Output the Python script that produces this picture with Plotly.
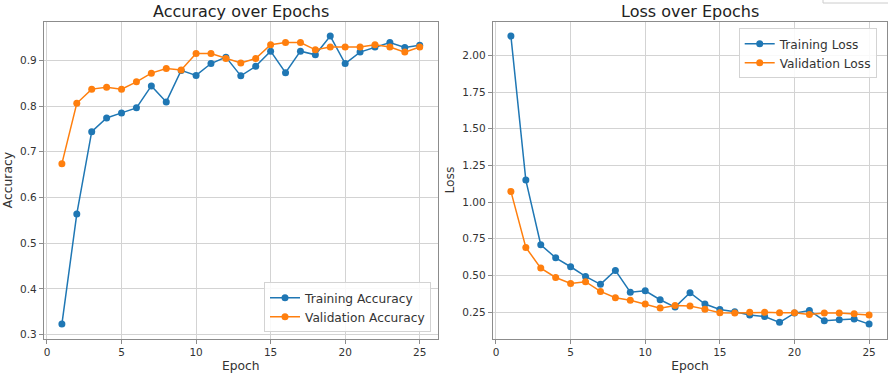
import plotly.graph_objects as go

epochs = list(range(1, 26))
train_acc = [0.323, 0.564, 0.744, 0.774, 0.785, 0.796, 0.844, 0.809, 0.878, 0.867,
             0.893, 0.907, 0.866, 0.887, 0.920, 0.873, 0.920, 0.912, 0.953, 0.893,
             0.918, 0.929, 0.939, 0.928, 0.933]
val_acc = [0.674, 0.806, 0.837, 0.841, 0.837, 0.853, 0.872, 0.882, 0.879, 0.915,
           0.915, 0.904, 0.894, 0.904, 0.934, 0.939, 0.939, 0.923, 0.929, 0.929,
           0.929, 0.934, 0.929, 0.918, 0.929]
train_loss = [2.132, 1.150, 0.709, 0.620, 0.559, 0.493, 0.439, 0.534, 0.386, 0.395,
              0.334, 0.284, 0.382, 0.305, 0.268, 0.252, 0.230, 0.220, 0.180, 0.243,
              0.261, 0.191, 0.198, 0.202, 0.168]
val_loss = [1.073, 0.691, 0.550, 0.486, 0.445, 0.457, 0.391, 0.348, 0.330, 0.305,
            0.277, 0.295, 0.291, 0.270, 0.245, 0.243, 0.248, 0.248, 0.245, 0.245,
            0.234, 0.243, 0.243, 0.239, 0.230]
acc_ticks = [0.3, 0.4, 0.5, 0.6, 0.7, 0.8, 0.9]
loss_ticks = [0.25, 0.5, 0.75, 1.0, 1.25, 1.5, 1.75, 2.0]
epoch_ticks = [0, 5, 10, 15, 20, 25]

BLUE = "#1f77b4"
ORANGE = "#ff7f0e"
FONT = "DejaVu Sans"
W, H = 888, 376


def pad_range(vals, frac=0.05):
    lo, hi = min(vals), max(vals)
    s = hi - lo
    return [lo - frac * s, hi + frac * s]


fig = go.Figure()


def add(x, y, name, color, xa, ya, legend):
    fig.add_trace(go.Scatter(
        x=x, y=y, name=name, mode="lines+markers",
        line=dict(color=color, width=1.5),
        marker=dict(color=color, size=7),
        xaxis=xa, yaxis=ya, legend=legend,
    ))


add(epochs, train_acc, "Training Accuracy", BLUE, "x", "y", "legend")
add(epochs, val_acc, "Validation Accuracy", ORANGE, "x", "y", "legend")
add(epochs, train_loss, "Training Loss", BLUE, "x2", "y2", "legend2")
add(epochs, val_loss, "Validation Loss", ORANGE, "x2", "y2", "legend2")

ydom = [(H - 338.5) / H, (H - 21.7) / H]
axis_common = dict(
    showline=True, mirror=True, linecolor="#8c8c8c", linewidth=1.4,
    showgrid=True, gridcolor="#d3d3d3", gridwidth=1, zeroline=False,
    ticks="outside", ticklen=4, tickcolor="#8c8c8c", tickwidth=1,
    tickfont=dict(family=FONT, size=10.5, color="#333333"),
    automargin=False,
)
title_font = dict(family=FONT, size=12.3, color="#333333")

xr = pad_range(epochs)
fig.update_layout(
    xaxis=dict(domain=[44 / W, 437.6 / W], range=xr, tickvals=epoch_ticks,
               title=dict(text="Epoch", font=title_font, standoff=4), anchor="y", **axis_common),
    yaxis=dict(domain=ydom, range=pad_range(train_acc + val_acc), tickvals=acc_ticks,
               tickformat=".1f",
               title=dict(text="Accuracy", font=title_font, standoff=4), anchor="x", **axis_common),
    xaxis2=dict(domain=[493 / W, 887 / W], range=xr, tickvals=epoch_ticks,
                title=dict(text="Epoch", font=title_font, standoff=4), anchor="y2", **axis_common),
    yaxis2=dict(domain=ydom, range=pad_range(train_loss + val_loss), tickvals=loss_ticks,
                tickformat=".2f",
                title=dict(text="Loss", font=title_font, standoff=4), anchor="x2", **axis_common),
    width=W, height=H,
    margin=dict(l=0, r=0, t=0, b=0),
    paper_bgcolor="white", plot_bgcolor="white",
    legend=dict(x=431 / W, y=(H - 332.3) / H, xanchor="right", yanchor="bottom",
                bgcolor="rgba(255,255,255,0.85)", bordercolor="#d3d3d3", borderwidth=1,
                font=dict(family=FONT, size=12.2, color="#333333")),
    legend2=dict(x=876.7 / W, y=(H - 28.3) / H, xanchor="right", yanchor="top",
                 bgcolor="rgba(255,255,255,0.85)", bordercolor="#d3d3d3", borderwidth=1,
                 font=dict(family=FONT, size=12.2, color="#333333")),
    annotations=[
        dict(text="Accuracy over Epochs", x=(44 + 437.6) / 2 / W, y=(H - 11.5) / H,
             xref="paper", yref="paper", xanchor="center", yanchor="middle", showarrow=False,
             font=dict(family=FONT, size=16, color="#222222")),
        dict(text="Loss over Epochs", x=(493 + 887) / 2 / W, y=(H - 11.5) / H,
             xref="paper", yref="paper", xanchor="center", yanchor="middle", showarrow=False,
             font=dict(family=FONT, size=16, color="#222222")),
    ],
    shapes=[dict(type="rect", xref="paper", yref="paper", x0=823 / W, x1=1.02,
                 y0=(H - 3) / H, y1=1.05, line=dict(color="#cccccc", width=1),
                 fillcolor="white", layer="above")],
    showlegend=True,
)

fig.write_html("out.html", config={"displayModeBar": False},
               post_script="document.body.style.margin='0px';document.body.style.overflow='hidden';")
